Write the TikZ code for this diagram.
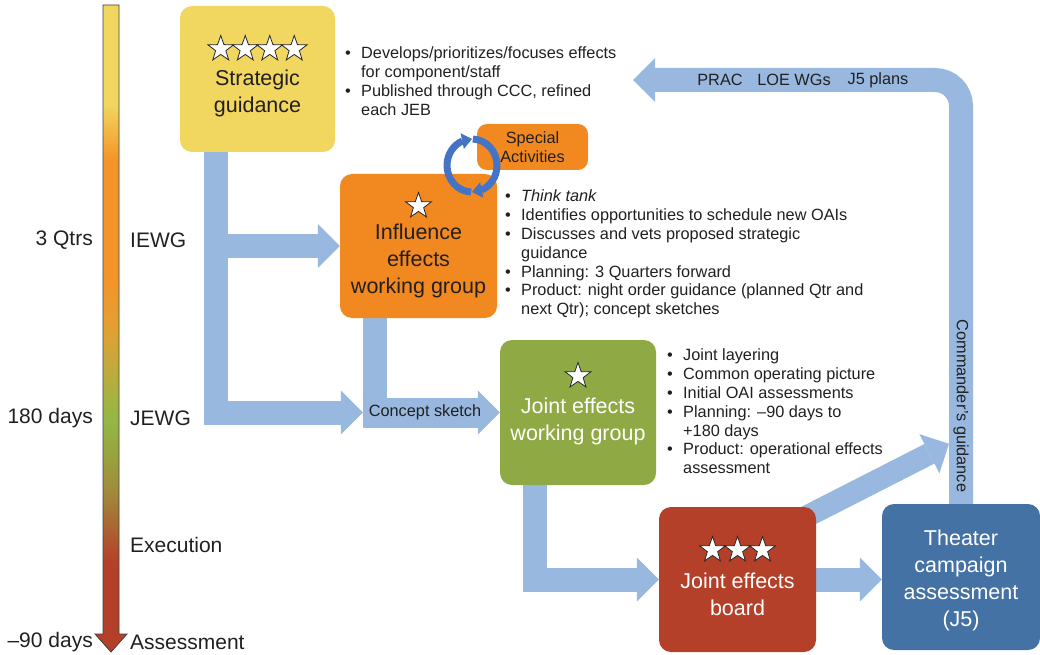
\documentclass[tikz,border=0pt]{standalone}
\usepackage{fontspec}
\setmainfont{Liberation Sans}
\usetikzlibrary{arrows.meta,bending,shapes.geometric,calc}
\definecolor{txtdark}{RGB}{35,31,32}
\definecolor{sgyellow}{RGB}{241,214,95}
\definecolor{ieorange}{RGB}{242,137,32}
\definecolor{jegreen}{RGB}{143,170,69}
\definecolor{jebred}{RGB}{181,64,42}
\definecolor{tcablue}{RGB}{68,114,164}
\definecolor{flowblue}{RGB}{152,184,223}
\definecolor{cycleblue}{RGB}{70,116,196}
\definecolor{tlolive}{RGB}{160,140,58}
\definecolor{tlgreen}{RGB}{146,184,69}
\definecolor{tlamber}{RGB}{226,160,52}
\definecolor{tlorange}{RGB}{244,148,40}
\pgfdeclarelayer{bg}
\pgfsetlayers{bg,main}
\pgfdeclareverticalshading{timeline}{100bp}{color(0bp)=(jebred); color(32bp)=(jebred);
  color(37.5bp)=(tlolive); color(42.9bp)=(tlgreen); color(49.9bp)=(tlamber);
  color(54bp)=(tlorange); color(63bp)=(tlorange); color(67.3bp)=(sgyellow); color(100bp)=(sgyellow)}
\newcommand{\bul}{\makebox[16pt][l]{\textbullet}}
\newcommand{\ind}{\hspace*{16pt}}

\begin{document}
\begin{tikzpicture}[x=1pt, y=-1pt, every node/.style={text=txtdark},
  box/.style={rounded corners=12pt, inner sep=0pt},
  boxtext/.style={align=center, inner sep=0pt, font=\fontsize{21.5}{27}\selectfont},
  sidetext/.style={inner sep=0pt, font=\fontsize{21}{25}\selectfont},
  listtext/.style={align=left, inner sep=0pt, anchor=west, font=\fontsize{16.3}{18.8}\selectfont},
  flowtext/.style={inner sep=0pt, font=\fontsize{16.3}{19}\selectfont},
  starnode/.style={star, star points=5, star point ratio=2.5, draw=black!85, fill=white,
    line width=0.8pt, minimum size=27pt, inner sep=0pt},
  flowbar/.style={draw=flowblue, line width=24pt},
  flow/.style={flowbar, line join=miter, -{Triangle[length=22pt,width=44pt,line width=0pt]}},
  cyclearrow/.style={draw=cycleblue, line width=7pt, -{Triangle[length=10pt,width=16pt,line width=0pt,flex]}}]
\useasboundingbox (0,0) rectangle (1040,655);

% time line
\shadedraw[shading=timeline, draw=black!75, line width=0.8pt] (103,5) -- (119,5) -- (119,634)
  -- (127,634) -- (111,652) -- (95,634) -- (103,634) -- cycle;
\node[sidetext, anchor=east] (qtrs) at (93,240) {3 Qtrs};
\node[sidetext, anchor=east] (days) at (93,418) {180 days};
\node[sidetext, anchor=east] (minus) at (93,642) {\textendash90 days};
\node[sidetext, anchor=west] (iewglbl) at (130,240) {IEWG};
\node[sidetext, anchor=west] (jewglbl) at (130,418) {JEWG};
\node[sidetext, anchor=west] (exec) at (130,545) {Execution};
\node[sidetext, anchor=west] (assess) at (130,642) {Assessment};

% boxes
\node[box, fill=sgyellow, minimum width=155pt, minimum height=146pt] (sg) at (257.5,79) {};
\node[box, fill=ieorange, minimum width=157pt, minimum height=144pt] (iewg) at (418.5,246) {};
\node[box, fill=ieorange, rounded corners=10pt, minimum width=111pt, minimum height=46pt] (sa) at (532.5,147) {};
\node[box, fill=jegreen, minimum width=156pt, minimum height=145pt] (jewg) at (578,412.5) {};
\node[box, fill=jebred, minimum width=157pt, minimum height=145pt] (jeb) at (737.5,579.5) {};
\node[box, fill=tcablue, minimum width=158pt, minimum height=146pt] (tca) at (961,577) {};

\node[boxtext] (sgtxt) at ($(sg.center)+(0,14)$) {Strategic\\guidance};
\node[boxtext] (iewgtxt) at ($(iewg.center)+(0,15)$) {Influence\\effects\\working group};
\node[flowtext, align=center] (satxt) at (sa.center) {Special\\Activities};
\node[boxtext, text=white] (jewgtxt) at ($(jewg.center)+(0,9)$) {Joint effects\\working group};
\node[boxtext, text=white] (jebtxt) at ($(jeb.center)+(0,15)$) {Joint effects\\board};
\node[boxtext, text=white] (tcatxt) at ($(tca.center)+(0,3)$) {Theater\\campaign\\assessment\\(J5)};

% stars
\foreach \i in {0,...,3}
  \node[starnode] (sgstar\i) at ($(sg.center)+(-36.75+24.5*\i,-30)$) {};
\node[starnode] (iewgstar) at ($(iewg.center)+(0,-40)$) {};
\node[starnode] (jewgstar) at ($(jewg.center)+(0,-36.5)$) {};
\foreach \i in {-1,0,1}
  \node[starnode] (jebstar\i) at ($(jeb.center)+(25*\i,-29.5)$) {};

% bullet lists
\node[listtext] (sglist) at (345,81) {\bul Develops/prioritizes/focuses effects\\
  \ind for component/staff\\
  \bul Published through CCC, refined\\
  \ind each JEB};
\node[listtext] (iewglist) at (505,254) {\bul\textit{Think tank}\\
  \bul Identifies opportunities to schedule new OAIs\\
  \bul Discusses and vets proposed strategic\\
  \ind guidance\\
  \bul Planning: 3 Quarters forward\\
  \bul Product: night order guidance (planned Qtr and\\
  \ind next Qtr); concept sketches};
\node[listtext] (jewglist) at (667,411.5) {\bul Joint layering\\
  \bul Common operating picture\\
  \bul Initial OAI assessments\\
  \bul Planning: \textendash90 days to\\
  \ind +180 days\\
  \bul Product: operational effects\\
  \ind assessment};

% flow arrows
\coordinate (sgtrunk) at ($(sg.south west)+(36,0)$);
\coordinate (cskin) at ($(iewg.south west)+(23,0)$);
\coordinate (cskx) at ($(iewg.south west)+(35,0)$);
\coordinate (jex) at ($(jewg.south west)+(35,0)$);
\coordinate (jebout) at ($(jeb.north east)+(-26,18)$);
\coordinate (cgin) at ($(tca.north)+(-12,-60)$);
\coordinate (rettip) at (633,80);
\begin{pgfonlayer}{bg}
\draw[flow] (sgtrunk) |- (cskin |- jewg.west);
\draw[flow] (sgtrunk |- iewg.west) -- (iewg.west);
\draw[flowbar] (cskx) -- (cskx |- jewg.west);
\draw[flow, line width=30pt] (cskin |- jewg.west) -- (jewg.west);
\draw[flow] (jex) |- (jeb.west);
\draw[flow] (jeb.east) -- (jeb.east -| tca.west);
\draw[flow, line width=22pt] (jebout) -- (cgin);
\draw[flow, rounded corners=26pt] (tca.north) |- (rettip);
\end{pgfonlayer}
\node[flowtext] (csk) at (425,412) {Concept sketch};
\node[flowtext] (prac) at (720,80) {PRAC};
\node[flowtext] (loe) at (794,80) {LOE WGs};
\node[flowtext] (jfive) at (878,80) {J5 plans};
\node[flowtext, rotate=-90] (cg) at (961,406) {Commander's guidance};

% cycle between influence group and special activities
\coordinate (cyc) at (472,165.5);
\draw[cyclearrow] ($(cyc)+(268:25pt and 26.5pt)$) arc[start angle=268, end angle=90, x radius=25pt, y radius=26.5pt];
\draw[cyclearrow] ($(cyc)+(88:25pt and 26.5pt)$) arc[start angle=88, end angle=-90, x radius=25pt, y radius=26.5pt];
\end{tikzpicture}
\end{document}
